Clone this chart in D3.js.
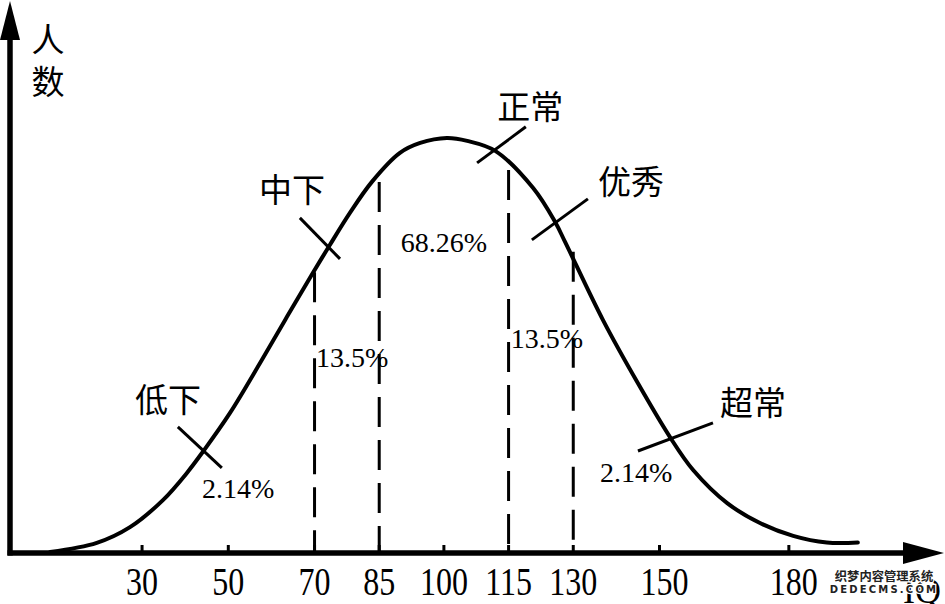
<!DOCTYPE html>
<html><head><meta charset="utf-8">
<script src="https://cdn.jsdelivr.net/npm/d3@7"></script>
<style>
html,body{margin:0;padding:0;background:#fff;}
svg{display:block;}
</style></head>
<body>
<svg id="c" width="945" height="604"></svg>
<script>
// ---- data ----
const iq = [8.7, 19.5, 27.2, 34.9, 40.4, 44.1, 50.4, 57.4, 63.6, 69.6, 73.4, 78.2, 83.3, 89.8, 94.5, 100.7, 105.4, 111.9, 120.7, 125.8, 128.1, 136.9, 144.8, 152.4, 157.8, 165.7, 173.3, 181.0, 188.8, 196.0];
const people = [0, 2.2, 6.0, 12.6, 19.1, 24.2, 33.6, 45.7, 56.8, 67.4, 73.9, 81.9, 89.4, 96.4, 98.8, 100, 99.3, 96.9, 87.9, 79.7, 74.9, 56.0, 41.1, 27.8, 19.8, 11.8, 7.0, 3.9, 2.3, 2.3];
const tickValues = [30, 50, 70, 85, 100, 115, 130, 150, 180];
const dashIQ = [70, 85, 115, 130];
const dashTop = [67.6, 89.4, 92.3, 72.5];
const groupNames = ["低下", "中下", "正常", "优秀", "超常"];
const shareLabels = ["2.14%", "13.5%", "68.26%", "13.5%", "2.14%"];
const yTitle = ["人", "数"];
const xTitle = "IQ";

const svg = d3.select("#c");
const x = d3.scaleLinear().domain([0, 200]).range([12.7, 875.1]);
const y = d3.scaleLinear().domain([0, 100]).range([552, 138]);
const cn = "'Noto Sans CJK SC', 'Noto Sans', sans-serif";
const serif = "'Liberation Serif', 'DejaVu Serif', serif";

// axes
const x0 = 10, y0 = y(0) + 1;
svg.append("line").attr("x1", x0).attr("x2", x0).attr("y1", y0 + 2.5).attr("y2", 34)
  .attr("stroke", "#000").attr("stroke-width", 5.5);
svg.append("path").attr("d", `M${x0 - 10},40 L${x0},1 L${x0 + 10},40 Z`).attr("fill", "#000");
svg.append("line").attr("x1", x0 - 2.5).attr("x2", 908).attr("y1", y0).attr("y2", y0)
  .attr("stroke", "#000").attr("stroke-width", 5.5);
svg.append("path").attr("d", `M903,${y0 - 11} L944,${y0} L903,${y0 + 11} Z`).attr("fill", "#000");

// ticks
svg.selectAll("line.tick").data(tickValues).join("line").attr("class", "tick")
  .attr("x1", d => x(d)).attr("x2", d => x(d)).attr("y1", y0).attr("y2", y0 - 8)
  .attr("stroke", "#000").attr("stroke-width", 3);
svg.selectAll("text.tl").data(tickValues).join("text").attr("class", "tl")
  .attr("transform", d => `translate(${x(d) + (d >= 150 ? 5 : 0)},595) scale(0.8,1)`)
  .attr("text-anchor", "middle").attr("font-family", serif).attr("font-size", 40)
  .text(d => d);

// dashed lines
svg.selectAll("line.dash").data(dashIQ).join("line").attr("class", "dash")
  .attr("x1", d => x(d)).attr("x2", d => x(d))
  .attr("y1", (d, i) => y(dashTop[i])).attr("y2", y0)
  .attr("stroke", "#000").attr("stroke-width", 3).attr("stroke-dasharray", "30,13");

// curve
const line = d3.line().x(d => x(d[0])).y(d => y(d[1])).curve(d3.curveCatmullRom.alpha(0.5));
svg.append("path").datum(iq.map((v, i) => [v, people[i]]))
  .attr("d", line).attr("fill", "none").attr("stroke", "#000").attr("stroke-width", 4)
  .attr("stroke-linecap", "round");

// y title
svg.selectAll("text.yt").data(yTitle).join("text").attr("class", "yt")
  .attr("x", 48).attr("y", (d, i) => 52 + i * 42)
  .attr("text-anchor", "middle").attr("font-family", cn).attr("font-size", 33)
  .text(d => d);

// group annotations (positions in data units)
const nameIQ = [36, 64.8, 120, 143.4, 171.7];
const nameVal = [33.8, 84.5, 104.5, 86.5, 33.1];
svg.selectAll("text.gn").data(groupNames).join("text").attr("class", "gn")
  .attr("x", (d, i) => x(nameIQ[i])).attr("y", (d, i) => y(nameVal[i]))
  .attr("text-anchor", "middle").attr("font-family", cn).attr("font-size", 33)
  .text(d => d);

// leader lines
const leadA = [[38.3, 30.2], [66.6, 80.7], [107.7, 94.0], [120.4, 75.4], [145.0, 24.4]];
const leadB = [[48.5, 20.3], [75.9, 70.8], [119.0, 102.7], [133.4, 85.3], [162.4, 31.2]];
svg.selectAll("line.ld").data(leadA).join("line").attr("class", "ld")
  .attr("x1", d => x(d[0])).attr("y1", d => y(d[1]))
  .attr("x2", (d, i) => x(leadB[i][0])).attr("y2", (d, i) => y(leadB[i][1]))
  .attr("stroke", "#000").attr("stroke-width", 3);

// share labels
const shareIQ = [52.3, 78.7, 100, 123.9, 144.6];
const shareVal = [13.0, 44.7, 72.5, 49.3, 16.9];
svg.selectAll("text.sl").data(shareLabels).join("text").attr("class", "sl")
  .attr("x", (d, i) => x(shareIQ[i])).attr("y", (d, i) => y(shareVal[i]))
  .attr("text-anchor", "middle").attr("font-family", serif).attr("font-size", 28)
  .text(d => d);

// x title
svg.append("text").attr("x", 903).attr("y", 603).attr("font-family", serif)
  .attr("font-size", 36).text(xTitle);

// watermark
const wm = svg.append("g").attr("font-family", cn).attr("fill", "#222")
  .attr("stroke", "#fff").attr("stroke-width", 2.5).attr("paint-order", "stroke");
wm.append("text").attr("x", 884).attr("y", 581).attr("text-anchor", "middle")
  .attr("font-size", 12.3).attr("font-weight", 700).text("织梦内容管理系统");
wm.append("text").attr("x", 884).attr("y", 593).attr("text-anchor", "middle")
  .attr("font-family", "'DejaVu Sans', sans-serif")
  .attr("font-size", 10).attr("font-weight", 700).attr("letter-spacing", 2.2).text("DEDECMS.COM");
</script>
</body></html>
